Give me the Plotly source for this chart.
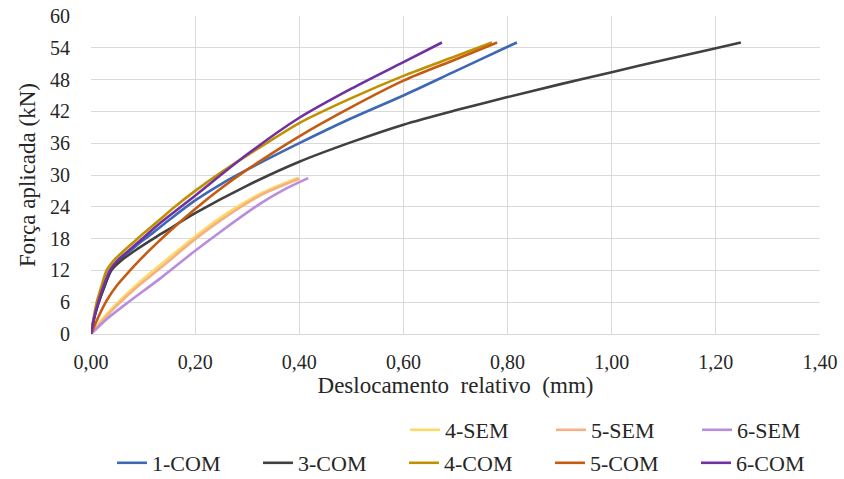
import plotly.graph_objects as go

# ---- data ----
x_1com = [0, 0.006, 0.015, 0.026, 0.038, 0.055, 0.08, 0.10, 0.123, 0.15, 0.2, 0.25, 0.3, 0.4, 0.5, 0.6, 0.7, 0.8, 0.818]
y_1com = [0, 3, 6, 9, 12, 14.0, 16.1, 17.7, 19.4, 21.5, 25.2, 28.3, 31.0, 36.0, 40.7, 45.0, 49.6, 54.2, 55.0]

x_3com = [0, 0.006, 0.015, 0.026, 0.039, 0.06, 0.09, 0.12, 0.145, 0.2, 0.3, 0.4, 0.5, 0.6, 0.7, 0.8, 0.9, 1.0, 1.1, 1.2, 1.248]
y_3com = [0, 3, 6, 9, 12, 14.0, 16.1, 18.0, 19.5, 22.8, 28.0, 32.5, 36.2, 39.5, 42.2, 44.7, 47.1, 49.4, 51.7, 53.9, 55.0]

x_4com = [0, 0.005, 0.011, 0.02, 0.03, 0.043, 0.062, 0.085, 0.10, 0.13, 0.161, 0.2, 0.25, 0.3, 0.35, 0.4, 0.5, 0.6, 0.7, 0.77]
y_4com = [0, 3, 6, 9, 12, 13.8, 15.6, 17.6, 18.9, 21.4, 24.0, 27.0, 30.5, 33.7, 36.8, 39.8, 44.5, 48.7, 52.4, 55.0]

x_5com = [0, 0.015, 0.03, 0.05, 0.075, 0.1, 0.125, 0.15, 0.2, 0.25, 0.3, 0.4, 0.5, 0.6, 0.7, 0.78]
y_5com = [0, 3.4, 6.3, 9.2, 12.0, 14.6, 17.0, 19.3, 23.6, 27.5, 31.0, 37.3, 42.8, 47.8, 51.8, 55.0]

x_6com = [0, 0.006, 0.014, 0.024, 0.036, 0.05, 0.072, 0.094, 0.13, 0.174, 0.2, 0.3, 0.4, 0.5, 0.6, 0.674]
y_6com = [0, 3, 6, 9, 12, 13.8, 15.7, 17.6, 20.7, 24.1, 26.1, 33.9, 40.8, 46.3, 51.3, 55.0]

x_4sem = [0, 0.02, 0.05, 0.09, 0.13, 0.2, 0.26, 0.33, 0.398]
y_4sem = [0, 2.6, 5.8, 9.5, 12.8, 18.4, 22.7, 26.7, 29.5]

x_5sem = [0, 0.02, 0.05, 0.09, 0.135, 0.2, 0.26, 0.33, 0.40]
y_5sem = [0, 2.3, 5.4, 9.0, 12.6, 17.9, 22.2, 26.4, 29.3]

x_6sem = [0, 0.03, 0.069, 0.133, 0.2, 0.26, 0.325, 0.37, 0.417]
y_6sem = [0, 2.8, 5.8, 10.5, 15.7, 20.1, 24.6, 27.2, 29.4]

x_ticks = [0, 0.2, 0.4, 0.6, 0.8, 1.0, 1.2, 1.4]
y_ticks = [0, 6, 12, 18, 24, 30, 36, 42, 48, 54, 60]

series = [
    ("4-SEM", x_4sem, y_4sem, "#ffd966", "legend2"),
    ("5-SEM", x_5sem, y_5sem, "#f4b183", "legend2"),
    ("6-SEM", x_6sem, y_6sem, "#b98ddd", "legend2"),
    ("1-COM", x_1com, y_1com, "#3d68b3", "legend"),
    ("3-COM", x_3com, y_3com, "#404040", "legend"),
    ("4-COM", x_4com, y_4com, "#bf9000", "legend"),
    ("5-COM", x_5com, y_5com, "#c55a11", "legend"),
    ("6-COM", x_6com, y_6com, "#7030a0", "legend"),
]

FONT = "Liberation Serif"
fig = go.Figure()
for name, xs, ys, col, lg in series:
    fig.add_trace(go.Scatter(x=xs, y=ys, name=name, mode="lines",
                             line=dict(color=col, width=2.6, shape="spline", smoothing=0.8),
                             legend=lg))

fig.update_layout(
    width=844, height=479,
    margin=dict(l=91, r=24, t=16, b=145),
    paper_bgcolor="white", plot_bgcolor="white",
    font=dict(family=FONT, size=20, color="#262626"),
    separators=", ",
    xaxis=dict(range=[0, 1.4], tickvals=x_ticks, tickformat=".2f", automargin=False,
               showgrid=True, gridcolor="#d9d9d9", gridwidth=1,
               showline=True, linecolor="#d9d9d9", linewidth=1,
               zeroline=False, ticks="", tickfont=dict(size=20), ticklabelstandoff=10,
               title=dict(text="Deslocamento  relativo  (mm)", font=dict(size=23), standoff=0)),
    yaxis=dict(range=[0, 60], tickvals=y_ticks, automargin=False,
               showgrid=True, gridcolor="#d9d9d9", gridwidth=1,
               zeroline=False, ticks="", tickfont=dict(size=20), ticklabelstandoff=20,
               title=dict(text="Força aplicada (kN)", font=dict(size=23), standoff=7)),
    legend=dict(orientation="h", xref="container", yref="container",
                x=112/844, y=1-463/479, xanchor="left", yanchor="middle",
                entrywidth=101, entrywidthmode="pixels",
                font=dict(size=22), bgcolor="rgba(0,0,0,0)"),
    legend2=dict(orientation="h", xref="container", yref="container",
                 x=405/844, y=1-430/479, xanchor="left", yanchor="middle",
                 entrywidth=101, entrywidthmode="pixels",
                 font=dict(size=22), bgcolor="rgba(0,0,0,0)"),
)

fig.write_html("out.html", config={"displayModeBar": False},
               post_script="document.body.style.margin='0';")
